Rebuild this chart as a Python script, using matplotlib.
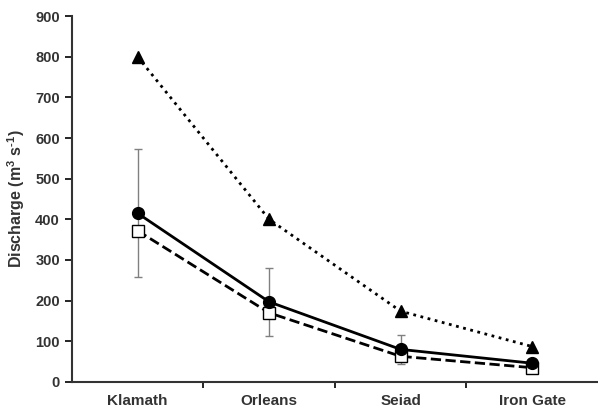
import numpy as np
import matplotlib
matplotlib.use('Agg')
import matplotlib.pyplot as plt

sites = ['Klamath', 'Orleans', 'Seiad', 'Iron Gate']
peak = [800, 400, 174, 87]
mean_q = [415, 197, 80, 46]
mean_err = [158, 83, 35, 8]
median_q = [372, 170, 63, 35]

plt.rcParams['font.family'] = ['Liberation Sans', 'DejaVu Sans']
plt.rcParams['mathtext.fontset'] = 'custom'
plt.rcParams['mathtext.rm'] = 'Liberation Sans:bold'
plt.rcParams['mathtext.it'] = 'Liberation Sans:bold'
plt.rcParams['mathtext.bf'] = 'Liberation Sans:bold'
txt = '#333333'

fig = plt.figure(figsize=(5.98, 4.12), dpi=100)
ax = fig.add_axes([0.12, 0.073, 0.88, 0.888])

x = np.arange(1, len(sites) + 1)
ax.plot(x, peak, color='black', ls=':', lw=2, marker='^', ms=8, zorder=3)
ax.plot(x, median_q, color='black', ls='--', lw=2, marker='s', ms=8,
        mfc='white', mec='black', mew=1, zorder=4)
ax.errorbar(x, mean_q, yerr=mean_err, fmt='none', ecolor='#808080',
            elinewidth=1, capsize=3, capthick=1, zorder=2)
ax.plot(x, mean_q, color='black', ls='-', lw=2, marker='o', ms=8.5, zorder=5)

ax.set_xlim(0.5, 4.5)
ax.set_ylim(0, 900)
ax.set_yticks(np.arange(0, 901, 100))
ax.set_yticklabels([str(v) for v in range(0, 901, 100)], fontweight='bold')
ax.set_xticks([1.5, 2.5, 3.5])
ax.set_xticklabels([])
ax.set_xticks(x, minor=True)
ax.set_xticklabels(sites, minor=True, fontweight='bold')
ax.tick_params(axis='x', which='minor', length=0, pad=9, labelsize=11, labelcolor=txt)
ax.tick_params(axis='x', which='major', direction='out', length=4, width=1.2)
ax.tick_params(axis='y', direction='out', length=5, width=1.2, labelsize=10.5, labelcolor=txt)

ax.set_ylabel('Discharge (m$^{3}$ s$^{\\text{-}1}$)', fontsize=11.5, fontweight='bold',
              color=txt, labelpad=6)
ax.spines['top'].set_visible(False)
ax.spines['right'].set_visible(False)
ax.spines['left'].set_linewidth(1.5)
ax.spines['bottom'].set_linewidth(1.5)
ax.spines['left'].set_color('#333333')
ax.spines['bottom'].set_color('#333333')

fig.savefig('out.png', dpi=100)
